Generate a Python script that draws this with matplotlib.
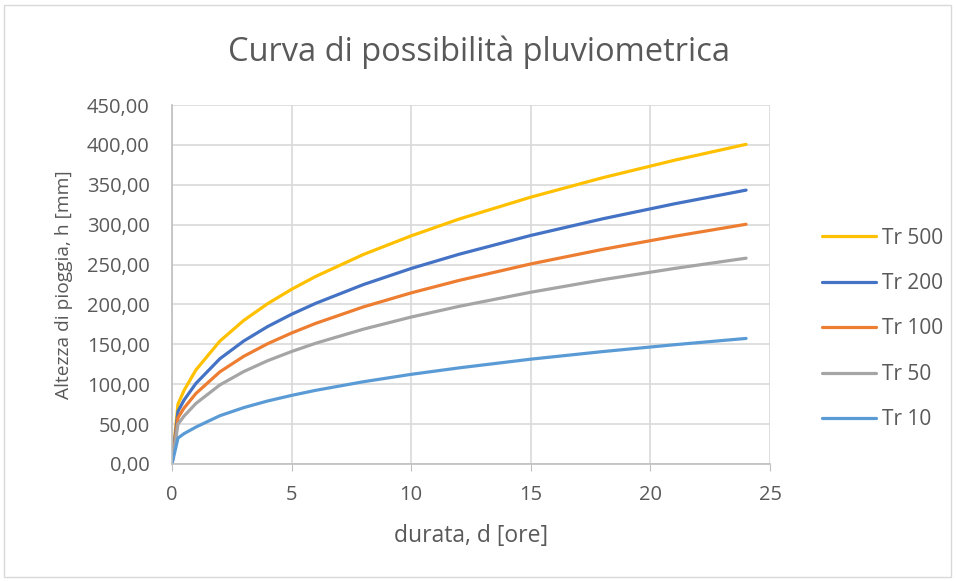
import matplotlib
matplotlib.use('Agg')
import matplotlib.pyplot as plt
from matplotlib.patches import Rectangle

# durata [ore] and altezza di pioggia [mm]
durata = [0, 0.25, 0.5, 1, 2, 3, 4, 5, 6, 8, 10, 12, 15, 18, 21, 24]
tr500 = [0, 75, 92, 117.9, 154, 180, 201, 219, 235, 262.6, 286, 307, 334.5, 358.8, 380.7, 400.7]
tr200 = [0, 66, 80, 101, 131.9, 154.2, 172.3, 187.7, 201.3, 224.9, 245.1, 262.9, 286.5, 307.3, 326.1, 343.3]
tr100 = [0, 58, 70, 88.4, 115.5, 135, 150.8, 164.2, 176.2, 196.9, 214.5, 230.1, 250.8, 269, 285.4, 300.5]
tr50 = [0, 50, 60, 75.9, 99.1, 115.9, 129.5, 141, 151.3, 169, 184.2, 197.6, 215.3, 231, 245.1, 258]
tr10 = [0, 32.5, 38, 46.3, 60.5, 70.7, 79, 86, 92.3, 103.1, 112.4, 120.5, 131.4, 140.9, 149.5, 157.4]

series_names = ['Tr 500', 'Tr 200', 'Tr 100', 'Tr 50', 'Tr 10']
series_colors = ['#FFC000', '#4472C4', '#ED7D31', '#A5A5A5', '#5B9BD5']

x_ticks = [0, 5, 10, 15, 20, 25]
y_ticks = [0, 50, 100, 150, 200, 250, 300, 350, 400, 450]
y_tick_labels = ['0,00', '50,00', '100,00', '150,00', '200,00', '250,00',
                 '300,00', '350,00', '400,00', '450,00']

plt.rcParams['font.family'] = ['Open Sans', 'DejaVu Sans']
text_color = '#595959'
grid_color = '#D9D9D9'

fig = plt.figure(figsize=(9.57, 5.81), dpi=100)
fig.patches.append(Rectangle((4 / 957, 4 / 581), 947 / 957, 572 / 581,
                             transform=fig.transFigure, fill=False,
                             edgecolor='#D9D9D9', linewidth=1))

ax = fig.add_axes([172 / 957, 1 - 464 / 581, 598 / 957, 359 / 581])

all_series = [tr500, tr200, tr100, tr50, tr10]
for values, name, color in zip(all_series, series_names, series_colors):
    ax.plot(durata, values, color=color, linewidth=2.3, label=name,
            solid_capstyle='round', solid_joinstyle='round')

ax.set_xlim(0, 25)
ax.set_ylim(0, 450)
ax.set_xticks(x_ticks)
ax.set_yticks(y_ticks)
ax.set_yticklabels(y_tick_labels)
ax.grid(True, color=grid_color, linewidth=1.2)
ax.set_axisbelow(True)

for side in ['top', 'right']:
    ax.spines[side].set_visible(False)
for side in ['left', 'bottom']:
    ax.spines[side].set_color('#BFBFBF')
    ax.spines[side].set_linewidth(1.2)

ax.tick_params(axis='x', colors='#BFBFBF', labelcolor=text_color, labelsize=14.5,
               length=5, direction='out', pad=10)
ax.tick_params(axis='y', labelcolor=text_color, labelsize=14.5, length=0, pad=16)

ax.set_xlabel('durata, d [ore]', fontsize=16.5, color=text_color, labelpad=14)
ax.set_ylabel('Altezza di pioggia, h [mm]', fontsize=13.8, color=text_color, labelpad=10)
fig.text(0.5, 1 - 52 / 581, 'Curva di possibilità pluviometrica', ha='center',
         va='center', fontsize=23.5, color=text_color)

fig.legend(loc='center left', bbox_to_anchor=(803 / 957, 1 - 329 / 581),
           frameon=False, fontsize=15, labelcolor=text_color,
           handlelength=2.6, handletextpad=0.3, labelspacing=1.17)

fig.savefig('out.png', dpi=100)
